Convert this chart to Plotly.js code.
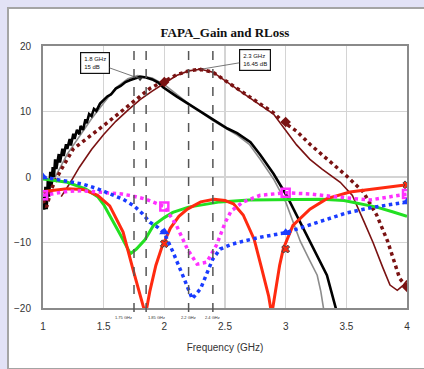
<!DOCTYPE html>
<html>
<head>
<meta charset="utf-8">
<script src="https://cdn.plot.ly/plotly-3.0.1.min.js"></script>
<style>
  html, body { margin:0; padding:0; background:#e2e2f6; overflow:hidden; }
  #panel { position:absolute; left:7px; top:7px; width:430px; height:359px; border:2px solid #a4a4a4; background:#fff; }
  #chart { width:430px; height:359px; }
</style>
</head>
<body>
<div id="panel"><div id="chart"></div></div>
<script>
// ---- data ----
const grayX  = [1.0,1.05,1.1,1.2,1.3,1.4,1.5,1.6,1.7,1.78,1.9,2.0,2.2,2.4,2.6,2.7,2.79,2.9,3.0,3.12,3.2,3.26,3.29,3.32];
const grayY  = [-4,-2,0,3.5,6.2,8.9,11.3,13.6,15.0,15.5,15.1,14.1,11.2,8.6,6.4,5.0,2.7,-0.3,-3.8,-9.8,-12.8,-15,-17.5,-21];

const blackX = [1.0,1.01,1.02,1.03,1.04,1.05,1.06,1.07,1.08,1.09,1.1,1.11,1.13,1.14,1.16,1.17,1.19,1.2,1.22,1.23,1.25,1.26,1.28,1.3,1.31,1.33,1.35,1.36,1.38,1.4,1.42,1.44,1.47,1.5,1.53,1.56,1.6,1.64,1.68,1.72,1.76,1.8,1.85,1.9,1.95,1.99,2.1,2.21,2.32,2.43,2.52,2.6,2.71,2.79,2.9,3.01,3.1,3.2,3.27,3.34,3.42];
const blackY = [-3,-5,-1.5,-4.9,-0.5,-3,0.8,-1.4,1.5,0,2.7,1.2,3.5,2.2,4.3,3.2,5,4.3,5.8,4.8,6.6,5.8,7.2,6.5,7.8,7.2,8.8,8.2,9.6,9.3,10.4,10.1,11.2,11.7,12.3,12.6,13.5,13.9,14.5,14.8,15.1,15.3,15.2,14.9,14.4,13.7,12.3,11.0,9.7,8.4,7.4,6.7,5.3,3.4,0.5,-2.9,-6.2,-9.8,-12.4,-15.0,-20.5];

const drSolidX = [1.15,1.22,1.3,1.4,1.5,1.6,1.7,1.8,1.9,2.0,2.1,2.2,2.3,2.4,2.52,2.71,2.9,2.98,3.09,3.2,3.3,3.45,3.55,3.65,3.72,3.8,3.86,3.92,3.97,4.0];
const drSolidY = [-3,-1.0,1.5,4.2,6.5,8.5,10.2,11.8,13.1,14.3,15.5,16.2,16.45,16.0,14.5,12.0,9.6,7.6,4.9,2.7,1.2,-0.8,-2.8,-7,-10,-13.8,-16.5,-17.3,-16.5,-15.8];

const drDotX = [1.0,1.03,1.07,1.14,1.25,1.35,1.44,1.53,1.61,1.72,1.8,1.88,1.96,2.0,2.1,2.2,2.29,2.4,2.52,2.71,2.9,2.98,3.09,3.2,3.34,3.5,3.64,3.75,3.84,3.94,4.0];
const drDotY = [-3.5,-4.6,-1.8,0.8,4.3,5.8,7.0,8.3,9.5,11.0,12.2,13.5,14.3,14.6,15.6,16.2,16.45,16.0,14.5,12.1,9.8,8.4,7.0,5.0,2.7,0.2,-2.3,-5.8,-9.8,-15.5,-16.8];
const drMkX = [2.0,3.0,4.0];
const drMkY = [14.5,8.4,-16.8];

const redX = [1.0,1.1,1.2,1.33,1.45,1.55,1.66,1.74,1.8,1.845,1.88,1.93,1.98,2.05,2.12,2.19,2.3,2.41,2.5,2.57,2.65,2.74,2.8,2.86,2.885,2.92,2.95,2.98,3.06,3.2,3.34,3.53,3.75,4.0];
const redY = [-2.2,-2.0,-1.8,-1.9,-2.8,-4.4,-8.4,-14,-18,-21,-17.5,-13.5,-10.7,-7.8,-6,-4.9,-3.8,-3.4,-3.6,-4.1,-5.8,-9.5,-13.8,-18.2,-21,-17,-13.5,-11,-7.4,-4.9,-3.3,-2.3,-1.8,-1.2];
const redMkX = [2.0,3.0,4.0];
const redMkY = [-10.2,-11,-1.2];

const greenX = [1.0,1.2,1.35,1.45,1.5,1.55,1.64,1.72,1.77,1.84,1.91,2.0,2.07,2.2,2.3,2.46,2.7,3.0,3.3,3.48,3.6,3.75,3.88,4.0];
const greenY = [-0.3,-0.8,-1.8,-3.0,-4.2,-5.8,-8.9,-11.7,-11.0,-9.6,-7.4,-6.2,-5.4,-4.6,-4.3,-3.8,-3.5,-3.4,-3.4,-3.6,-4.0,-4.6,-5.3,-6.0];

const magX = [1.0,1.1,1.2,1.33,1.5,1.65,1.74,1.85,1.93,2.0,2.1,2.19,2.27,2.35,2.43,2.5,2.55,2.65,2.79,3.0,3.2,3.34,3.5,3.7,3.85,4.0];
const magY = [-2.8,-2.5,-2.2,-2.1,-2.3,-2.6,-2.9,-3.4,-4.0,-4.5,-7.4,-11,-13.3,-13.0,-10.4,-7.0,-5.2,-3.8,-2.8,-2.4,-2.6,-2.9,-3.2,-3.5,-3.1,-2.6];
const magMkX = [1.0,2.0,3.0,4.0];
const magMkY = [-2.8,-4.5,-2.4,-2.6];

const blueX = [1.0,1.1,1.2,1.33,1.45,1.55,1.66,1.75,1.82,1.88,1.94,2.0,2.07,2.16,2.23,2.3,2.4,2.46,2.55,2.65,2.79,3.0,3.17,3.34,3.5,3.7,4.0];
const blueY = [0,-0.3,-0.6,-1.1,-1.8,-2.5,-3.4,-4.4,-5.6,-6.9,-7.6,-8.6,-11.4,-15.4,-18.6,-17,-12.5,-11,-10.3,-9.8,-9.2,-8.5,-7.5,-6.4,-5.5,-4.7,-3.8];
const blueMkX = [1.0,2.0,3.0,4.0];
const blueMkY = [0,-8.4,-8.5,-3.8];

const vLinesX = [1.75,1.85,2.2,2.4];
const vLineLabels = ['1.75 GHz','1.85 GHz','2.2 GHz','2.4 GHz'];
const vLabelAnchor = ['right','left','center','center'];

const calloutX = [1.8,2.3];
const calloutY = [15,16.45];
const calloutText = ['1.8 GHz<br>15 dB','2.3 GHz<br>16.45 dB'];

const xTicks = [1,1.5,2,2.5,3,3.5,4];
const xTickText = ['1','1.5','2','2.5','3','3.5','4'];
const yTicks = [-20,-10,0,10,20];

// ---- traces ----
const traces = [
  {x:grayX, y:grayY, mode:'lines', line:{color:'#8c8c8c', width:1.6}},
  {x:blackX, y:blackY, mode:'lines', line:{color:'#000000', width:2.6}},
  {x:drSolidX, y:drSolidY, mode:'lines', line:{color:'#7a1212', width:1.6}},
  {x:drDotX, y:drDotY, mode:'lines', line:{color:'#7a1212', width:3.5, dash:'dot'}},
  {x:drMkX, y:drMkY, mode:'markers', marker:{symbol:'diamond', size:8, color:'#7a1212'}},
  {x:greenX, y:greenY, mode:'lines', line:{color:'#22e022', width:3}},
  {x:redX, y:redY, mode:'lines', line:{color:'#ff2a10', width:3}},
  {x:redMkX, y:redMkY, mode:'markers', marker:{symbol:'x', size:7, color:'#ff2a10', line:{width:1}}},
  {x:magX, y:magY, mode:'lines', line:{color:'#ff30ff', width:3.5, dash:'dot'}},
  {x:magMkX, y:magMkY, mode:'markers', marker:{symbol:'square-open', size:8, color:'#ff30ff', line:{width:2.5, color:'#ff30ff'}}},
  {x:blueX, y:blueY, mode:'lines', line:{color:'#1a3cff', width:3.5, dash:'dot'}},
  {x:blueMkX, y:blueMkY, mode:'markers', marker:{symbol:'triangle-up', size:9, color:'#1a3cff'}},
  {x:calloutX, y:calloutY, mode:'markers', marker:{symbol:'triangle-down', size:5, color:['#333333','#7a1212']}}
];

const shapes = vLinesX.map(v => ({
  type:'line', xref:'x', yref:'paper', x0:v, x1:v, y0:-0.015, y1:1,
  line:{color:'#555555', width:1.5, dash:'dash'}
}));

const annotations = vLinesX.map((v,i) => ({
  x:v, y:-0.02, xref:'x', yref:'paper', text:vLineLabels[i], showarrow:false,
  xanchor:vLabelAnchor[i], yanchor:'top', font:{size:4, color:'#333', family:'Liberation Sans, Arial'}
}));
const offsets = [[-45,-16],[54,-9]];
calloutX.forEach((cx,i) => {
  annotations.push({
    x:cx, y:calloutY[i], xref:'x', yref:'y', text:calloutText[i], align:'left',
    showarrow:true, arrowhead:0, arrowwidth:0.8, arrowcolor:'#555',
    ax:offsets[i][0], ay:offsets[i][1],
    bgcolor:'#ffffff', bordercolor:'#111', borderwidth:1.2, borderpad:3,
    font:{size:6, color:'#111', family:'Liberation Sans, Arial'}
  });
});

const layout = {
  width:430, height:359,
  margin:{l:34, r:32, t:37, b:60},
  paper_bgcolor:'#ffffff', plot_bgcolor:'#ffffff',
  showlegend:false,
  title:{text:'FAPA_Gain and RLoss', x:0.5, xref:'paper', y:0.935, yref:'container', yanchor:'middle',
         font:{family:'Liberation Serif, Times New Roman, serif', size:13, color:'#111', weight:'bold'}},
  xaxis:{range:[1,4], tickvals:xTicks, ticktext:xTickText, showgrid:true, gridcolor:'#d4d4d4', gridwidth:1.5,
         zeroline:false, showline:true, mirror:true, linecolor:'#8a8a8a', linewidth:2,
         ticks:'', ticklabelstandoff:8,
         tickfont:{family:'Liberation Sans, Arial', size:10, color:'#333'},
         title:{text:'Frequency (GHz)', standoff:13, font:{family:'Liberation Sans, Arial', size:10, color:'#333'}}},
  yaxis:{range:[-20,20], tickvals:yTicks, showgrid:true, gridcolor:'#d4d4d4', gridwidth:1.5,
         zeroline:false, showline:true, mirror:true, linecolor:'#8a8a8a', linewidth:2,
         ticks:'', ticklabelstandoff:8,
         tickfont:{family:'Liberation Sans, Arial', size:10, color:'#333'}},
  shapes:shapes,
  annotations:annotations
};

Plotly.newPlot('chart', traces, layout, {staticPlot:true, displayModeBar:false});
</script>
</body>
</html>
